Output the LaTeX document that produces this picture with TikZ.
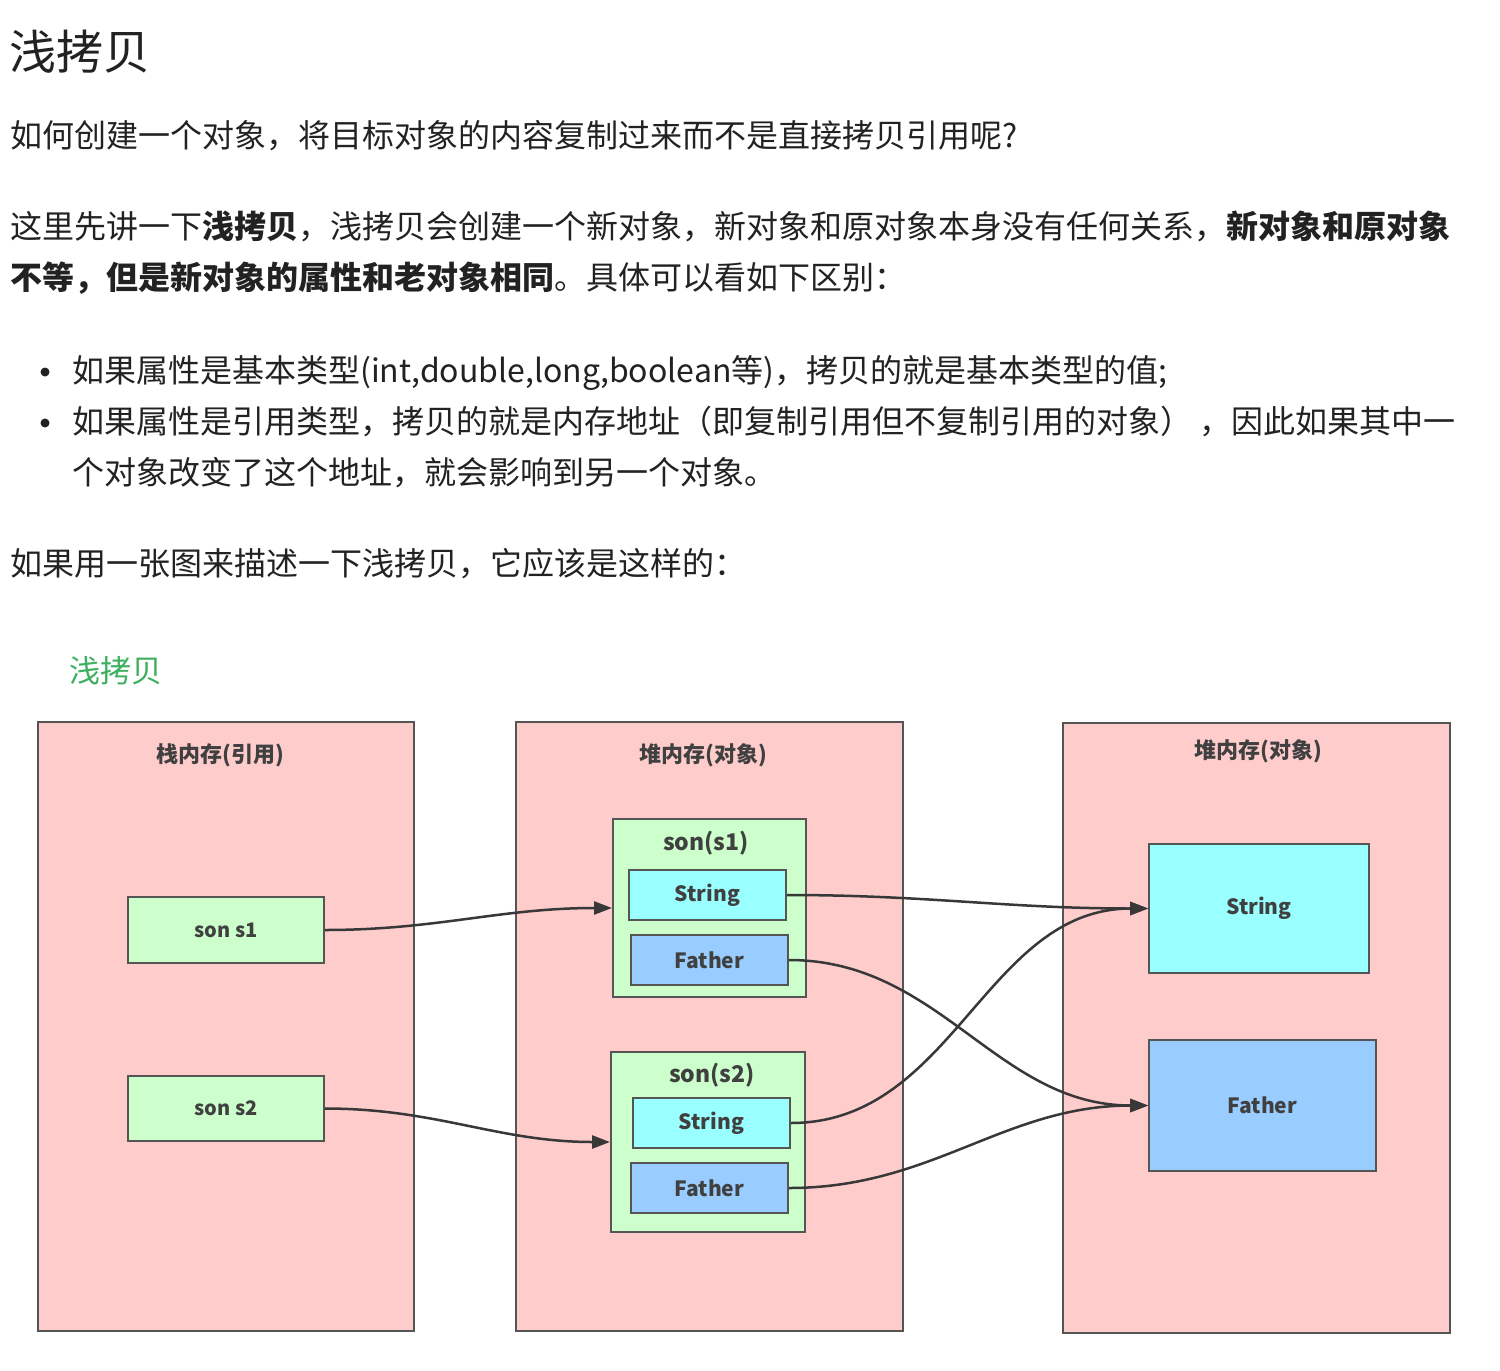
\documentclass[tikz,border=0pt]{standalone}
\usepackage{fontspec}
\setmainfont{Noto Sans CJK SC}
\usetikzlibrary{arrows.meta}
\definecolor{textc}{HTML}{222222}
\definecolor{labc}{HTML}{404040}
\definecolor{linec}{HTML}{555555}
\definecolor{arrc}{HTML}{383838}
\definecolor{pinkf}{HTML}{FFCCCC}
\definecolor{greenf}{HTML}{CCFFCC}
\definecolor{cyanf}{HTML}{99FFFF}
\definecolor{bluef}{HTML}{99CCFF}
\definecolor{titlegreen}{HTML}{3DB060}
\begin{document}
\begin{tikzpicture}[x=1pt,y=-1pt,
  txt/.style={anchor=base west, inner sep=0pt, font=\fontsize{32}{38}\selectfont, text=textc},
  membox/.style={draw=linec, line width=2pt, fill=pinkf, inner sep=0pt},
  objbox/.style={draw=linec, line width=2pt, fill=greenf, inner sep=0pt},
  refbox/.style={draw=linec, line width=1.6pt, fill=greenf, inner sep=0pt, font=\fontsize{20}{24}\selectfont\bfseries, text=labc},
  strbox/.style={draw=linec, line width=1.6pt, fill=cyanf, inner sep=0pt, font=\fontsize{21}{25}\selectfont\bfseries, text=labc},
  fatbox/.style={draw=linec, line width=1.6pt, fill=bluef, inner sep=0pt, font=\fontsize{21}{25}\selectfont\bfseries, text=labc},
  boxtitle/.style={inner sep=0pt, font=\fontsize{22}{26}\selectfont\bfseries, text=labc},
  objtitle/.style={inner sep=0pt, font=\fontsize{23}{28}\selectfont\bfseries, text=labc},
  conn/.style={draw=arrc, line width=2.5pt, -{Triangle[length=18pt,width=13pt]}}
]
\useasboundingbox (0,0) rectangle (1500,1371);
\fill[white] (0,0) rectangle (1500,1371);

% ---- text ----
\node[anchor=base west, inner sep=0pt, font=\fontsize{47}{56}\selectfont, text=textc] (head) at (9,69) {浅拷贝};
\node[txt] (l1) at (10,147) {如何创建一个对象，将目标对象的内容复制过来而不是直接拷贝引用呢?};
\node[txt] (l2) at (10,238) {这里先讲一下\textbf{浅拷贝}，浅拷贝会创建一个新对象，新对象和原对象本身没有任何关系，\textbf{新对象和原对象}};
\node[txt] (l3) at (10,289) {\textbf{不等，但是新对象的属性和老对象相同}。具体可以看如下区别：};
\fill[textc] (45,372) circle (4.5);
\node[txt] (b1) at (72,382) {如果属性是基本类型(int,double,long,boolean等)，拷贝的就是基本类型的值;};
\fill[textc] (45,423) circle (4.5);
\node[txt] (b2) at (72,433) {如果属性是引用类型，拷贝的就是内存地址（即复制引用但不复制引用的对象） ，因此如果其中一};
\node[txt] (b3) at (72,484) {个对象改变了这个地址，就会影响到另一个对象。};
\node[txt] (l7) at (10,575) {如果用一张图来描述一下浅拷贝，它应该是这样的：};

% ---- diagram ----
\node[anchor=base west, inner sep=0pt, font=\fontsize{31}{36}\selectfont, text=titlegreen] (dtitle) at (69,682) {浅拷贝};

\node[membox, minimum width=376pt, minimum height=609pt] (stack) at (226,1026.5) {};
\node[membox, minimum width=387pt, minimum height=609pt] (heap1) at (709.5,1026.5) {};
\node[membox, minimum width=387pt, minimum height=610pt] (heap2) at (1256.5,1028) {};
\node[boxtitle] (stackt) at (220,755) {栈内存(引用)};
\node[boxtitle] (heap1t) at (703,755) {堆内存(对象)};
\node[boxtitle] (heap2t) at (1258,751) {堆内存(对象)};

\node[refbox, minimum width=196pt, minimum height=66pt] (s1) at (226,930) {son s1};
\node[refbox, minimum width=196pt, minimum height=65pt] (s2) at (226,1108.5) {son s2};

\node[objbox, minimum width=193pt, minimum height=178pt] (o1) at (709.5,908) {};
\node[objtitle] (o1t) at (706,843) {son(s1)};
\node[strbox, minimum width=157pt, minimum height=50pt] (str1) at (707.5,895) {String};
\node[fatbox, minimum width=157pt, minimum height=50pt] (fat1) at (709.5,960) {Father};

\node[objbox, minimum width=194pt, minimum height=180pt] (o2) at (708,1142) {};
\node[objtitle] (o2t) at (712,1075) {son(s2)};
\node[strbox, minimum width=157pt, minimum height=50pt] (str2) at (711.5,1123) {String};
\node[fatbox, minimum width=157pt, minimum height=50pt] (fat2) at (709.5,1188) {Father};

\node[strbox, minimum width=220pt, minimum height=129pt] (hstr) at (1259,908.5) {String};
\node[fatbox, minimum width=227pt, minimum height=131pt] (hfat) at (1262.5,1105.5) {Father};

% ---- connectors ----
\draw[conn] (s1.east) to[out=0,in=180] (o1.west);
\draw[conn] (s2.east) to[out=0,in=180] (o2.west);
\draw[conn] (str1.east) to[out=0,in=180] (hstr.west);
\draw[conn] (fat1.east) to[out=0,in=180] (hfat.west);
\draw[conn] (str2.east) to[out=0,in=180] (hstr.west);
\draw[conn] (fat2.east) to[out=0,in=180] (hfat.west);
\end{tikzpicture}
\end{document}
